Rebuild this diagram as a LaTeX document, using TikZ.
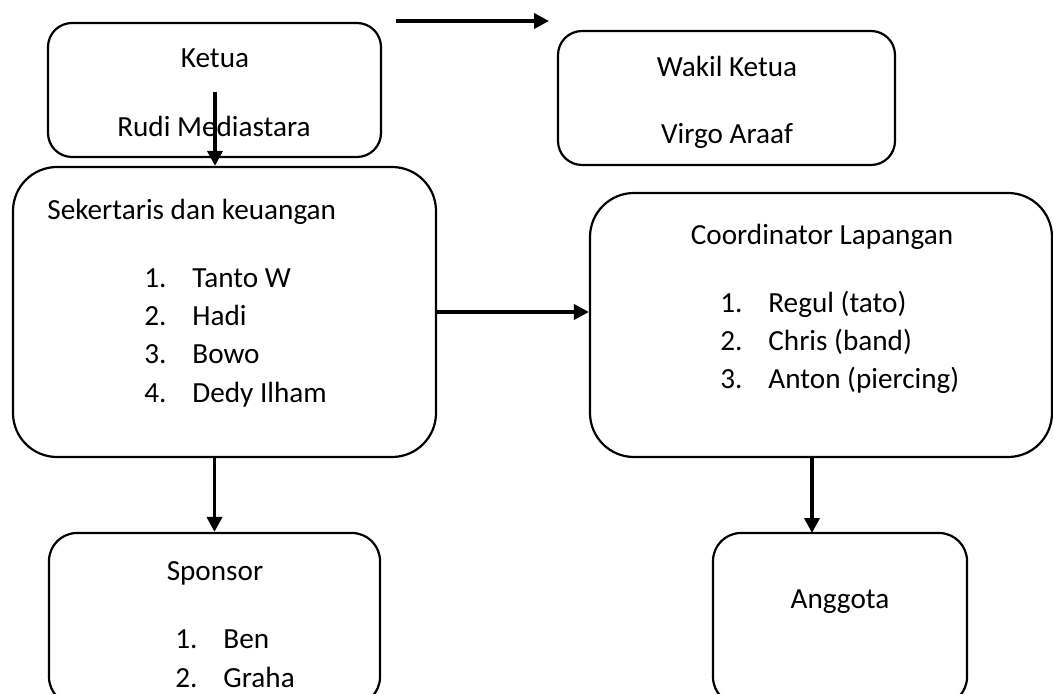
\documentclass[tikz,border=0pt]{standalone}
\usepackage{fontspec}
\setmainfont{Carlito}
\usetikzlibrary{arrows.meta,fit}
\newcommand{\butir}[2]{\makebox[24pt][l]{#1}#2}
\begin{document}
\begin{tikzpicture}[x=0.5pt, y=-0.5pt,
  kotak/.style={draw, line width=1.1pt, inner sep=0pt},
  teks/.style={font=\fontsize{14.6}{17}\selectfont, inner sep=0pt, anchor=base},
  daftar/.style={teks, anchor=base west},
  panah/.style={line width=1.8pt, -{Triangle[length=7.5pt, width=7.5pt]}}]
  \useasboundingbox (0,0) rectangle (1053,694);
  \node[kotak, rounded corners=12pt, fit={(48,23) (381,157)}] (ketua) {};
  \node[kotak, rounded corners=12pt, fit={(558,31) (895,165)}] (wakil) {};
  \node[kotak, rounded corners=22pt, fit={(13,167) (436,457)}] (sek) {};
  \node[kotak, rounded corners=22pt, fit={(590,193) (1052,457)}] (koor) {};
  \node[kotak, rounded corners=14pt, fit={(49,533) (380,705)}] (sponsor) {};
  \node[kotak, rounded corners=14pt, fit={(713,533) (967,705)}] (anggota) {};
  \node[teks] (t-ketua) at (215,68) {Ketua};
  \node[teks] (t-rudi) at (214,137) {Rudi Mediastara};
  \node[teks] (t-wakil) at (727,77) {Wakil Ketua};
  \node[teks] (t-virgo) at (727,144) {Virgo Araaf};
  \node[daftar] (t-sek) at (47,220) {Sekertaris dan keuangan};
  \node[daftar] (s1) at (144,288) {\butir{1.}{Tanto W}};
  \node[daftar] (s2) at (144,326) {\butir{2.}{Hadi}};
  \node[daftar] (s3) at (144,364) {\butir{3.}{Bowo}};
  \node[daftar] (s4) at (144,403) {\butir{4.}{Dedy Ilham}};
  \node[teks] (t-koor) at (822,245) {Coordinator Lapangan};
  \node[daftar] (k1) at (720,313) {\butir{1.}{Regul (tato)}};
  \node[daftar] (k2) at (720,351) {\butir{2.}{Chris (band)}};
  \node[daftar] (k3) at (720,389) {\butir{3.}{Anton (piercing)}};
  \node[teks] (t-sponsor) at (215,580) {Sponsor};
  \node[daftar] (p1) at (175,648) {\butir{1.}{Ben}};
  \node[daftar] (p2) at (175,687) {\butir{2.}{Graha}};
  \node[teks] (t-anggota) at (840,608) {Anggota};
  \coordinate (a1) at (396,21);
  \coordinate (a2) at (549,21);
  \coordinate (ketua-in) at (215,92);
  \coordinate (anggota-in) at (812,533);
  \draw[panah] (a1) -- (a2);
  \draw[panah] (ketua-in) -- (ketua-in |- sek.north);
  \draw[panah] (sek.east) -- (sek.east -| koor.west);
  \draw[panah] (sponsor.north |- sek.south) -- (sponsor.north);
  \draw[panah] (anggota-in |- koor.south) -- (anggota-in);
\end{tikzpicture}
\end{document}
